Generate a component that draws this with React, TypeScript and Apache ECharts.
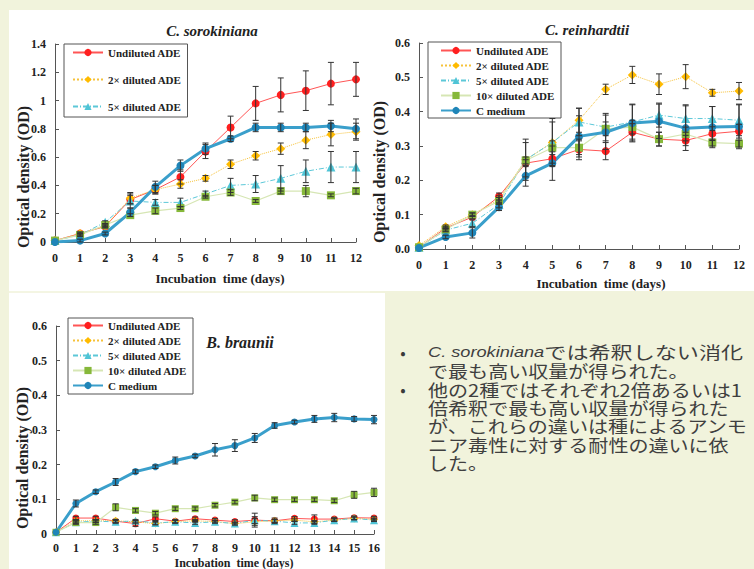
import React, { useEffect, useRef } from 'react';
import * as echarts from 'echarts';

const DAYS_A = [0, 1, 2, 3, 4, 5, 6, 7, 8, 9, 10, 11, 12];
const DAYS_B = [0, 1, 2, 3, 4, 5, 6, 7, 8, 9, 10, 11, 12, 13, 14, 15, 16];
const NAMES = ['Undiluted ADE', '2× diluted ADE', '5× diluted ADE', '10× diluted ADE', 'C medium'];

// C. sorokiniana
const soroUndiluted = [0.01, 0.06, 0.11, 0.30, 0.37, 0.46, 0.64, 0.81, 0.98, 1.04, 1.07, 1.12, 1.15];
const soroUndilutedErr = [0, 0.01, 0.01, 0.03, 0.03, 0.05, 0.05, 0.08, 0.12, 0.12, 0.14, 0.15, 0.12];
const soro2x = [0.01, 0.06, 0.11, 0.31, 0.37, 0.41, 0.45, 0.55, 0.61, 0.66, 0.72, 0.76, 0.78];
const soro2xErr = [0, 0.01, 0.01, 0.04, 0.03, 0.03, 0.02, 0.03, 0.03, 0.04, 0.06, 0.08, 0.06];
const soro5x = [0.01, 0.05, 0.14, 0.29, 0.28, 0.28, 0.34, 0.40, 0.41, 0.45, 0.50, 0.53, 0.53];
const soro5xErr = [0, 0.01, 0.01, 0.05, 0.02, 0.03, 0.02, 0.05, 0.06, 0.09, 0.08, 0.11, 0.11];
const soro10x = [0.01, 0.05, 0.12, 0.19, 0.22, 0.24, 0.32, 0.35, 0.29, 0.36, 0.36, 0.33, 0.36];
const soro10xErr = [0, 0.01, 0.01, 0.01, 0.02, 0.01, 0.01, 0.02, 0.01, 0.02, 0.04, 0.01, 0.02];
const soroC = [0.0, 0.01, 0.06, 0.21, 0.39, 0.54, 0.66, 0.73, 0.81, 0.81, 0.81, 0.82, 0.80];
const soroCErr = [0, 0.01, 0.01, 0.03, 0.04, 0.04, 0.04, 0.02, 0.03, 0.03, 0.03, 0.04, 0.07];

// C. reinhardtii
const reinUndiluted = [0.005, 0.061, 0.093, 0.153, 0.25, 0.263, 0.29, 0.285, 0.34, 0.32, 0.316, 0.336, 0.343];
const reinUndilutedErr = [0, 0.005, 0.005, 0.01, 0.01, 0.02, 0.03, 0.025, 0.025, 0.02, 0.015, 0.02, 0.02];
const rein2x = [0.01, 0.065, 0.10, 0.145, 0.26, 0.31, 0.375, 0.465, 0.507, 0.48, 0.502, 0.455, 0.46];
const rein2xErr = [0, 0.005, 0.005, 0.01, 0.06, 0.06, 0.035, 0.015, 0.025, 0.03, 0.035, 0.01, 0.025];
const rein5x = [0.005, 0.055, 0.075, 0.13, 0.26, 0.31, 0.37, 0.355, 0.37, 0.39, 0.38, 0.38, 0.375];
const rein5xErr = [0, 0.005, 0.01, 0.01, 0.05, 0.07, 0.04, 0.04, 0.05, 0.035, 0.04, 0.035, 0.045];
const rein10x = [0.005, 0.057, 0.10, 0.14, 0.258, 0.295, 0.295, 0.35, 0.355, 0.32, 0.335, 0.31, 0.307];
const rein10xErr = [0, 0.005, 0.005, 0.01, 0.01, 0.02, 0.02, 0.02, 0.02, 0.02, 0.02, 0.01, 0.01];
const reinC = [0.003, 0.035, 0.047, 0.122, 0.213, 0.25, 0.328, 0.34, 0.367, 0.372, 0.352, 0.355, 0.357];
const reinCErr = [0, 0.005, 0.015, 0.01, 0.03, 0.05, 0.06, 0.05, 0.055, 0.05, 0.065, 0.06, 0.065];

// B. braunii
const brauUndiluted = [0.005, 0.046, 0.046, 0.037, 0.030, 0.044, 0.037, 0.044, 0.040, 0.036, 0.040, 0.038, 0.045, 0.043, 0.043, 0.047, 0.046];
const brauUndilutedErr = [0, 0.005, 0.005, 0.005, 0.008, 0.005, 0.005, 0.005, 0.005, 0.005, 0.02, 0.008, 0.005, 0.012, 0.005, 0.005, 0.005];
const brau2x = [0.005, 0.038, 0.038, 0.038, 0.035, 0.030, 0.036, 0.038, 0.036, 0.030, 0.035, 0.038, 0.040, 0.035, 0.040, 0.045, 0.042];
const brau2xErr = [0, 0.004, 0.004, 0.004, 0.004, 0.004, 0.004, 0.004, 0.004, 0.004, 0.01, 0.004, 0.004, 0.004, 0.004, 0.004, 0.004];
const brau5x = [0.005, 0.034, 0.037, 0.035, 0.038, 0.032, 0.035, 0.032, 0.035, 0.030, 0.040, 0.037, 0.032, 0.032, 0.040, 0.045, 0.040];
const brau5xErr = [0, 0.004, 0.004, 0.004, 0.004, 0.004, 0.004, 0.004, 0.004, 0.004, 0.01, 0.004, 0.004, 0.004, 0.004, 0.004, 0.004];
const brau10x = [0.005, 0.033, 0.033, 0.077, 0.068, 0.060, 0.073, 0.073, 0.083, 0.092, 0.104, 0.099, 0.099, 0.099, 0.096, 0.113, 0.120];
const brau10xErr = [0, 0.005, 0.005, 0.01, 0.005, 0.005, 0.005, 0.005, 0.005, 0.005, 0.008, 0.005, 0.005, 0.005, 0.005, 0.01, 0.012];
const brauC = [0.005, 0.088, 0.122, 0.150, 0.180, 0.194, 0.212, 0.225, 0.243, 0.255, 0.277, 0.313, 0.323, 0.332, 0.336, 0.332, 0.330];
const brauCErr = [0, 0.01, 0.005, 0.01, 0.005, 0.005, 0.01, 0.005, 0.018, 0.017, 0.013, 0.008, 0.005, 0.01, 0.012, 0.007, 0.012];

const Y_TICKS_SORO = ['0', '0.2', '0.4', '0.6', '0.8', '1', '1.2', '1.4'];
const Y_TICKS_REIN = ['0.0', '0.1', '0.2', '0.3', '0.4', '0.5', '0.6'];
const Y_TICKS_BRAU = ['0', '0.1', '0.2', '0.3', '0.4', '0.5', '0.6'];

// visible part of the slide text (the slide cuts it at its right edge)
const TEXT_LINES = [
  '{i|C. sorokiniana}では希釈しない消化',
  'で最も高い収量が得られた。',
  '他の2種ではそれぞれ2倍あるいは1',
  '倍希釈で最も高い収量が得られた',
  'が、これらの違いは種によるアンモ',
  'ニア毒性に対する耐性の違いに依',
  'した。',
];
const BULLET_LINES = [0, 2];

const SERIF = '"Liberation Serif", "Times New Roman", serif';

const STYLES = [
  { color: '#ff1f1f', line: { color: '#f55', width: 1, type: 'solid' }, symbol: 'circle' },
  { color: '#ffbb00', line: { color: '#f6c23a', width: 1, type: 'dotted' }, symbol: 'diamond' },
  { color: '#4fc4d6', line: { color: '#5cc8d8', width: 1, type: [5, 2, 1, 2] }, symbol: 'triangle' },
  { color: '#86b83a', line: { color: '#d6e6b4', width: 1.2, type: 'solid' }, symbol: 'rect' },
  { color: '#1f85b8', line: { color: '#3a9fcb', width: 3, type: 'solid' }, symbol: 'circle' },
];

function lineSeries(grid: number, idx: number, days: number[], vals: number[], size: number) {
  const s = STYLES[idx];
  return {
    type: 'line',
    name: NAMES[idx],
    xAxisIndex: grid,
    yAxisIndex: grid,
    data: days.map((d, i) => [d, vals[i]]),
    symbol: s.symbol,
    symbolSize: size + (s.symbol === 'diamond' || s.symbol === 'triangle' ? 1 : 0),
    itemStyle: { color: s.color },
    lineStyle: s.line,
    z: 3,
  };
}

function errSeries(grid: number, idx: number, days: number[], vals: number[], errs: number[]) {
  const data: number[][] = [];
  days.forEach((d, i) => {
    if (errs[i] > 0) data.push([d, vals[i] - errs[i], vals[i] + errs[i]]);
  });
  return {
    type: 'custom',
    name: 'error-' + grid + '-' + idx,
    xAxisIndex: grid,
    yAxisIndex: grid,
    data,
    encode: { x: 0, y: [1, 2] },
    z: 4,
    silent: true,
    renderItem: (params: any, api: any) => {
      const x = api.value(0);
      const top = api.coord([x, api.value(2)]);
      const bot = api.coord([x, api.value(1)]);
      const w = 3;
      const st = { stroke: '#333', lineWidth: 1 };
      return {
        type: 'group',
        children: [
          { type: 'line', shape: { x1: top[0], y1: top[1], x2: bot[0], y2: bot[1] }, style: st },
          { type: 'line', shape: { x1: top[0] - w, y1: top[1], x2: top[0] + w, y2: top[1] }, style: st },
          { type: 'line', shape: { x1: bot[0] - w, y1: bot[1], x2: bot[0] + w, y2: bot[1] }, style: st },
        ],
      };
    },
  };
}

const axisCommon = {
  axisLine: { show: true, lineStyle: { color: '#555', width: 1 } },
  axisTick: { show: true, inside: true, length: 4, lineStyle: { color: '#555' } },
  axisLabel: { color: '#222', fontFamily: SERIF, fontWeight: 'bold', fontSize: 12 },
  splitLine: { show: false },
};

function xAxis(grid: number, max: number, margin: number) {
  return { ...axisCommon, gridIndex: grid, type: 'value', min: 0, max, interval: 1, axisLabel: { ...axisCommon.axisLabel, margin } };
}
function yAxis(grid: number, max: number, interval: number, ticks: string[]) {
  return {
    ...axisCommon,
    gridIndex: grid,
    type: 'value',
    min: 0,
    max,
    interval,
    axisLabel: {
      ...axisCommon.axisLabel,
      margin: 9,
      formatter: (v: number) => ticks[Math.round(v / interval)] ?? '',
    },
  };
}

function legend(names: string[], left: number, top: number, gap: number, padding: number[]) {
  return {
    data: names,
    orient: 'vertical',
    left,
    top,
    itemWidth: 30,
    itemHeight: 9,
    itemGap: gap,
    padding,
    borderColor: '#555',
    borderWidth: 1,
    backgroundColor: '#fff',
    selectedMode: false,
    textStyle: { fontFamily: SERIF, fontWeight: 'bold', fontSize: 11, color: '#222' },
  };
}

function txt(text: string, x: number, y: number, size: number, opts: any = {}) {
  return {
    type: 'text',
    x,
    y,
    rotation: opts.rotation || 0,
    z: 20,
    style: {
      text,
      fill: '#222',
      fontFamily: SERIF,
      fontWeight: 'bold',
      fontStyle: opts.italic ? 'italic' : 'normal',
      fontSize: size,
      lineHeight: size,
      align: opts.align || 'center',
      verticalAlign: 'middle',
    },
  };
}

export default function App() {
  const ref = useRef<HTMLDivElement>(null);
  useEffect(() => {
    if (!ref.current) return;
    const chart = echarts.init(ref.current, undefined, { renderer: 'svg' });

    const series: any[] = [];
    const soro = [
      [soroUndiluted, soroUndilutedErr], [soro2x, soro2xErr], [soro5x, soro5xErr], [soro10x, soro10xErr], [soroC, soroCErr],
    ];
    const rein = [
      [reinUndiluted, reinUndilutedErr], [rein2x, rein2xErr], [rein5x, rein5xErr], [rein10x, rein10xErr], [reinC, reinCErr],
    ];
    const brau = [
      [brauUndiluted, brauUndilutedErr], [brau2x, brau2xErr], [brau5x, brau5xErr], [brau10x, brau10xErr], [brauC, brauCErr],
    ];
    [soro, rein, brau].forEach((set, g) => {
      const days = g === 2 ? DAYS_B : DAYS_A;
      const size = g === 2 ? 7 : 8;
      set.forEach(([v, e], idx) => {
        series.push(errSeries(g, idx, days, v, e));
        series.push(lineSeries(g, idx, days, v, size));
      });
    });

    const graphic: any[] = [
      { type: 'rect', z: -10, shape: { x: 9, y: 10, width: 361, height: 281 }, style: { fill: '#ffffff' } },
      { type: 'rect', z: -10, shape: { x: 370, y: 10, width: 384, height: 281 }, style: { fill: '#ffffff' } },
      { type: 'rect', z: -10, shape: { x: 9, y: 293, width: 376, height: 276 }, style: { fill: '#ffffff' } },
      { type: 'line', z: -9, shape: { x1: 9, y1: 292, x2: 370, y2: 292 }, style: { stroke: '#f7f8ea', lineWidth: 1 } },
      txt('C. sorokiniana', 212, 31, 15, { italic: true }),
      txt('C. reinhardtii', 587, 30, 15, { italic: true }),
      txt('B. braunii', 240, 342, 16, { italic: true }),
      txt('Incubation  time (days)', 220, 278, 13),
      txt('Incubation  time (days)', 601, 283, 13),
      txt('Incubation  time (days)', 234, 563, 12),
      txt('Optical density (OD)', 23, 177, 16, { rotation: Math.PI / 2 }),
      txt('Optical density (OD)', 379, 172, 16, { rotation: Math.PI / 2 }),
      txt('Optical density (OD)', 22, 458, 16, { rotation: Math.PI / 2 }),
    ];
    const lineY0 = 352;
    const lineH = 18.4;
    TEXT_LINES.forEach((t, i) => {
      const y = lineY0 + i * lineH;
      if (BULLET_LINES.includes(i)) {
        graphic.push({
          type: 'text', x: 403, y, z: 20,
          style: { text: '•', fill: '#3a3a3a', fontFamily: '"Noto Sans CJK JP", sans-serif', fontSize: 16, lineHeight: 16, align: 'center', verticalAlign: 'middle' },
        });
      }
      graphic.push({
        type: 'text', x: 428, y, z: 20,
        scaleX: i === 0 ? 1.3 : 1.18,
        style: {
          text: t,
          fill: '#3f3f3f',
          fontFamily: '"Noto Sans CJK JP", sans-serif',
          fontSize: 17,
          lineHeight: 17,
          align: 'left',
          verticalAlign: 'middle',
          rich: {
            i: { fontFamily: '"Liberation Sans", Arial, sans-serif', fontStyle: 'italic', fontSize: 14, lineHeight: 17, fill: '#3f3f3f' },
          },
        },
      });
    });

    chart.setOption({
      animation: false,
      backgroundColor: '#f1f3dc',
      grid: [
        { left: 55, top: 44, width: 301, height: 198 },
        { left: 419, top: 43, width: 320, height: 206 },
        { left: 56, top: 326, width: 318, height: 208 },
      ],
      xAxis: [xAxis(0, 12, 10), xAxis(1, 12, 10), xAxis(2, 16, 8)],
      yAxis: [
        yAxis(0, 1.4, 0.2, Y_TICKS_SORO),
        yAxis(1, 0.6, 0.1, Y_TICKS_REIN),
        yAxis(2, 0.6, 0.1, Y_TICKS_BRAU),
      ],
      legend: [
        legend(NAMES.slice(0, 3), 64, 44, 16, [3, 6, 5, 8]),
        legend(NAMES, 428, 42, 4, [3, 6, 2, 12]),
        legend(NAMES, 68, 318, 4, [2, 6, 3, 4]),
      ],
      graphic,
      series,
    });
    return () => chart.dispose();
  }, []);
  return <div ref={ref} style={{ position: 'fixed', left: 0, top: 0, width: 754, height: 569 }} />;
}
